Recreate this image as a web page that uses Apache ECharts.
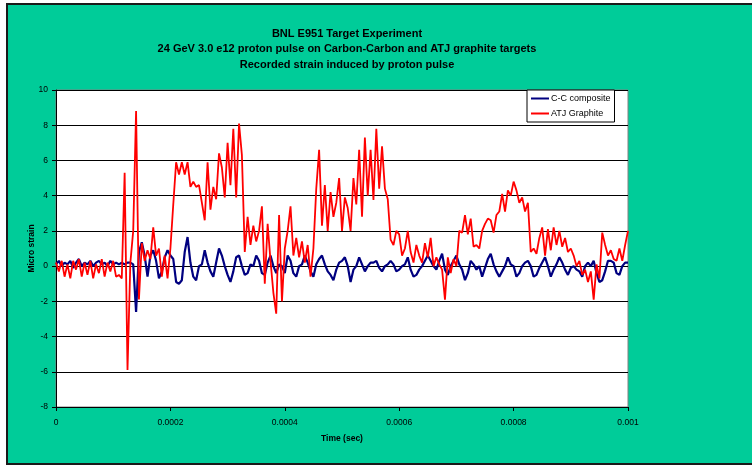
<!DOCTYPE html>
<html>
<head>
<meta charset="utf-8">
<script src="https://cdn.jsdelivr.net/npm/echarts@6/dist/echarts.min.js"></script>
<style>
  html, body { margin: 0; padding: 0; background: #fff; }
  #frame {
    position: absolute; left: 6px; top: 3px; width: 746px; height: 462px;
    background: #00CC99; border-left: 2px solid #1a1a1a; border-top: 2px solid #1a1a1a;
    border-bottom: 2px solid #1a1a1a; box-sizing: border-box;
  }
  #chart { position: absolute; left: 0; top: 0; width: 752px; height: 469px; }
</style>
</head>
<body>
<div id="frame"></div>
<div id="chart"></div>
<script>
// sampling step of the recorded traces (sec)
const dt = 0.000005;

// C-C composite, micro strain
const ccComposite = [
  0.1, 0.3, 0.0, 0.2, 0.1, 0.3, -0.1, 0.2, 0.4, 0.0,
  0.2, 0.1, 0.3, 0.0, 0.2, 0.3, 0.1, 0.2, 0.0, 0.3,
  0.1, 0.2, 0.1, 0.2, 0.1, 0.2, 0.2, 0.1, -2.6, 0.8,
  1.35, 0.6, -0.6, 0.6, 0.9, 0.3, -0.7, -0.3, 0.5, 0.9,
  0.6, 0.4, -0.9, -1.0, -0.8, 0.8, 1.65, 0.2, -0.6, -0.8,
  0.0, 0.1, 0.9, 0.2, -0.3, -0.6, 0.2, 1.0, 0.6, 0.0,
  -0.5, -0.9, -0.3, 0.5, 0.6, 0.0, -0.5, -0.4, 0.1, 0.0,
  0.6, 0.3, -0.4, -0.5, 0.2, 0.6, 0.0, -0.4, 0.1, 0.0,
  -0.4, 0.6, 0.3, -0.4, -0.6, 0.0, 0.1, 0.6, 0.2, -0.3,
  -0.6, 0.1, 0.4, 0.6, 0.1, -0.3, -0.5, -0.8, -0.2, 0.2,
  0.3, 0.5, 0.0, -0.9, -0.2, 0.0, 0.5, 0.1, -0.3, 0.0,
  0.2, 0.2, 0.3, -0.1, -0.3, 0.0, 0.1, 0.3, 0.1, -0.3,
  -0.2, 0.0, 0.1, 0.5, -0.2, -0.6, -0.5, -0.2, 0.0, 0.3,
  0.6, 0.3, 0.0, -0.2, 0.3, 0.7, -0.2, -0.5, 0.0, 0.3,
  0.6, 0.1, -0.2, -0.8, -0.4, 0.3, 0.1, -0.2, 0.0, -0.6,
  -0.1, 0.4, 0.7, 0.1, -0.3, -0.6, -0.3, 0.0, 0.5, 0.1,
  0.0, -0.6, -0.4, 0.0, 0.2, 0.3, 0.0, -0.6, -0.5, -0.1,
  0.2, 0.5, 0.0, -0.6, -0.2, 0.1, 0.5, 0.2, -0.2, -0.5,
  -0.1, 0.0, -0.2, -0.3, -0.6, 0.0, 0.2, 0.0, 0.3, -0.4,
  -0.9, -0.8, -0.3, 0.3, 0.3, 0.2, -0.4, -0.5, 0.0, 0.2,
  0.2
];

// ATJ Graphite, micro strain
const atjGraphite = [
  0.2, -0.3, 0.3, -0.6, 0.1, -0.7, 0.3, -0.2, 0.4, -0.6,
  0.2, -0.5, 0.3, -0.7, 0.1, -0.4, 0.4, -0.6, 0.2, -0.3,
  0.3, -0.6, -0.5, -0.7, 5.3, -5.9, 0.2, 2.0, 8.8, -1.9,
  1.3, 0.3, 0.9, 0.4, 2.2, 0.6, 1.0, -0.6, 0.6, -0.7,
  1.0, 3.5, 5.9, 5.2, 5.9, 5.2, 5.9, 4.5, 4.8, 4.5,
  4.6, 3.6, 2.6, 5.9, 3.2, 4.5, 3.8, 6.4, 5.6, 3.9,
  7.0, 4.6, 7.8, 3.9, 8.1, 6.3, 0.8, 2.8, 1.2, 2.3,
  1.4, 2.0, 3.4, -1.0, 2.4, 0.3, -1.5, -2.7, 2.9, -2.0,
  1.0, 2.0, 3.4, 0.6, 1.6, 0.5, 1.4, 0.2, 1.2, -0.6,
  1.0, 4.4, 6.6, 2.3, 4.6, 2.0, 4.2, 2.8, 3.6, 5.0,
  2.0, 3.9, 3.3, 2.0, 5.0, 3.5, 6.6, 2.8, 7.3, 4.0,
  6.6, 3.75, 7.8, 4.4, 6.8, 4.4, 3.8, 1.5, 1.2, 2.0,
  1.8, 0.6, 1.0, 2.0, 0.8, 0.2, 1.2, 0.6, 0.2, 1.3,
  0.5, 1.6, 0.0, 0.5, 0.1, -0.2, -1.9, 0.5, -0.4, 0.4,
  0.0, 2.0, 1.9, 2.9, 1.8, 2.7, 1.1, 1.2, 1.0, 2.0,
  2.4, 2.7, 2.6, 1.9, 2.9, 3.1, 4.1, 3.1, 4.3, 4.0,
  4.8, 4.3, 3.6, 3.9, 3.1, 3.6, 0.8, 1.0, 0.7, 1.6,
  2.2, 0.6, 2.1, 0.9, 2.2, 1.2, 2.0, 1.1, 1.6, 0.8,
  1.0, 0.6, 0.0, 0.3, -0.5, -0.2, -0.9, -0.3, -1.9, 0.1,
  -0.7, 1.9, 1.2, 0.6, 0.9, 0.4, 0.3, 1.0, 0.3, 1.2,
  2.0
];

const titleLines = [
  'BNL E951 Target Experiment',
  '24 GeV 3.0 e12 proton pulse on Carbon-Carbon and ATJ graphite targets',
  'Recorded strain induced by proton pulse'
];

const times = atjGraphite.map((v, i) => i * dt);
const toPairs = vals => vals.map((v, i) => [times[i], v]);

const myChart = echarts.init(document.getElementById('chart'));
const fontFamily = '"Liberation Sans", Arial, sans-serif';

const option = {
  animation: false,
  backgroundColor: 'transparent',
  textStyle: { fontFamily: fontFamily },
  title: {
    text: titleLines.join('\n'),
    left: 342,
    top: 21,
    textAlign: 'center',
    textStyle: { fontSize: 11, fontWeight: 'bold', color: '#000', lineHeight: 15.5, fontFamily: fontFamily }
  },
  legend: {
    data: ['C-C composite', 'ATJ Graphite'],
    orient: 'vertical',
    left: 527,
    top: 90,
    icon: 'rect',
    itemWidth: 18,
    itemHeight: 2,
    itemGap: 6,
    padding: [4, 4, 4, 4],
    backgroundColor: '#fff',
    borderColor: '#000',
    borderWidth: 1,
    textStyle: { fontSize: 9, color: '#000', padding: [0, 0, 0, -3] }
  },
  grid: {
    left: 56,
    top: 90,
    width: 572,
    height: 317,
    show: true,
    backgroundColor: '#fff',
    borderColor: '#808080',
    borderWidth: 1
  },
  xAxis: {
    type: 'value',
    min: 0,
    max: 0.001,
    interval: 0.0002,
    name: 'Time (sec)',
    nameLocation: 'middle',
    nameGap: 27,
    nameTextStyle: { fontSize: 8.5, fontWeight: 'bold', color: '#000' },
    axisLine: { onZero: false, lineStyle: { color: '#000', width: 1 } },
    axisTick: { show: true, length: 4, lineStyle: { color: '#000' } },
    axisLabel: {
      fontSize: 8.5, color: '#000', margin: 11,
      formatter: v => v === 0 ? '0' : String(+v.toFixed(4))
    },
    splitLine: { show: false }
  },
  yAxis: {
    type: 'value',
    min: -8,
    max: 10,
    interval: 2,
    name: 'Micro strain',
    nameLocation: 'middle',
    nameGap: 20,
    nameMoveOverlap: false,
    nameTextStyle: { fontSize: 8.5, fontWeight: 'bold', color: '#000' },
    axisLine: { show: true, lineStyle: { color: '#000', width: 1 } },
    axisTick: { show: true, length: 4, lineStyle: { color: '#000' } },
    axisLabel: { fontSize: 8.5, color: '#000', margin: 8 },
    splitLine: { show: true, lineStyle: { color: '#000', width: 1 } }
  },
  series: [
    {
      name: 'C-C composite',
      type: 'line',
      data: toPairs(ccComposite),
      showSymbol: false,
      itemStyle: { color: '#000080' },
      lineStyle: { color: '#000080', width: 2.2 }
    },
    {
      name: 'ATJ Graphite',
      type: 'line',
      data: toPairs(atjGraphite),
      showSymbol: false,
      itemStyle: { color: '#FF0000' },
      lineStyle: { color: '#FF0000', width: 1.8 }
    }
  ]
};

myChart.setOption(option);
</script>
</body>
</html>
